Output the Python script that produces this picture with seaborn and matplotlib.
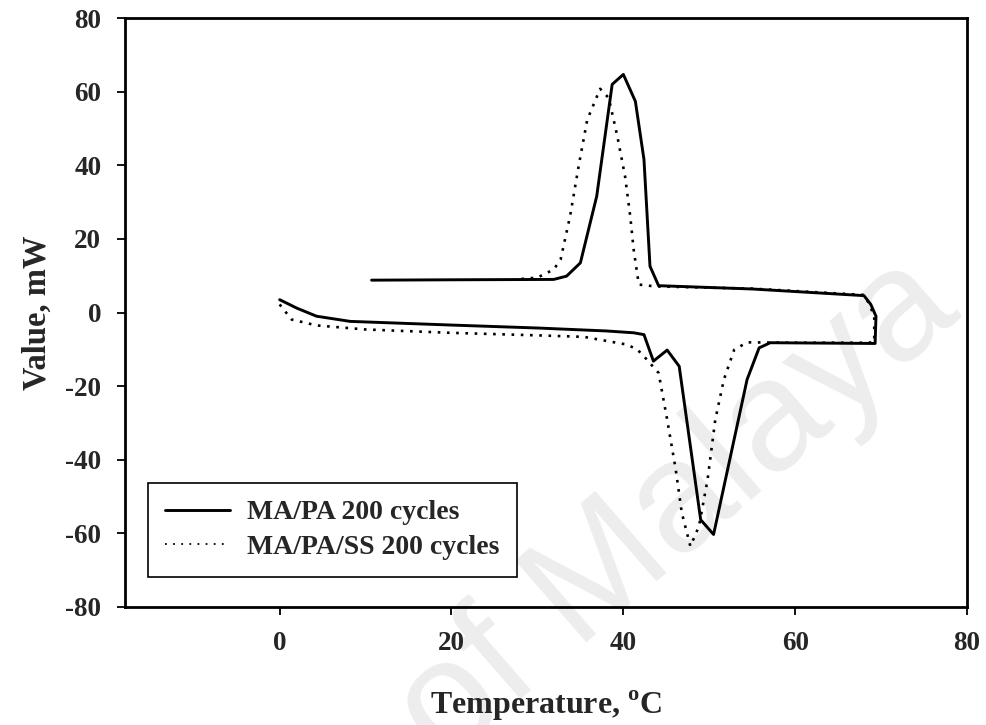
import matplotlib
matplotlib.use("Agg")
import matplotlib.pyplot as plt
import seaborn as sns
import pandas as pd

# DSC traces after 200 thermal cycles: heating branch (left to right),
# then cooling branch (right to left), drawn as one continuous path.
ma_pa_temp = [0, 2, 4.3, 8.2, 20, 30, 38, 41.2, 42.4, 43.5, 45.1, 46.5, 49.0,
              50.5, 54.4, 55.8, 57.1, 69.3, 69.4, 68.8, 68.0, 55, 44.1, 43.1,
              42.4, 41.4, 40.0, 38.7, 36.9, 35.0, 33.4, 31.9, 20, 10.7]
ma_pa_flow = [3.5, 1.2, -1.0, -2.4, -3.4, -4.2, -5.0, -5.5, -6.0, -13.2, -10.2,
              -14.6, -56.3, -60.3, -18.2, -9.6, -8.2, -8.4, -1.0, 2.2, 4.6, 6.4,
              7.3, 12.6, 41.6, 57.4, 64.7, 62.0, 31.6, 13.5, 9.9, 9.0, 8.9, 8.8]

ma_pa_ss_temp = [0, 1.4, 4.3, 10, 19.8, 30, 35.4, 40.4, 41.6, 42.4, 44.1, 45.1,
                 46.1, 46.8, 47.8, 48.8, 49.8, 50.7, 51.7, 52.9, 54.4, 60, 68.5,
                 69.2, 69.2, 68.6, 68.0, 55, 43.7, 41.8, 41.2, 40.8, 40.2, 39.3,
                 38.3, 37.3, 35.8, 34.8, 33.8, 32.7, 31.9, 30, 27.5]
ma_pa_ss_flow = [2.2, -1.9, -3.5, -4.6, -5.5, -6.2, -6.6, -8.7, -10.0, -11.9,
                 -16.4, -29.1, -42.7, -54.4, -63.5, -58.1, -45.4, -29.1, -18.2,
                 -10.1, -8.1, -8.2, -8.2, -8.0, -1.0, 2.4, 4.8, 6.5, 7.1, 7.6,
                 17.1, 26.2, 37.0, 47.9, 58.3, 60.8, 52.4, 39.8, 26.2, 14.4,
                 11.7, 9.5, 9.0]

series_names = ["MA/PA 200 cycles", "MA/PA/SS 200 cycles"]
x_ticks = [0, 20, 40, 60, 80]
y_ticks = [-80, -60, -40, -20, 0, 20, 40, 60, 80]

sns.set_style("ticks")
plt.rcParams["font.family"] = ["Liberation Serif", "DejaVu Serif"]
plt.rcParams["font.weight"] = "bold"
plt.rcParams["axes.unicode_minus"] = False
plt.rcParams["mathtext.fontset"] = "custom"
plt.rcParams["mathtext.rm"] = "Liberation Serif:bold"
plt.rcParams["mathtext.bf"] = "Liberation Serif:bold"

df_a = pd.DataFrame({"T": ma_pa_temp, "Q": ma_pa_flow})
df_b = pd.DataFrame({"T": ma_pa_ss_temp, "Q": ma_pa_ss_flow})

fig = plt.figure(figsize=(9.87, 7.25), dpi=100)
fig.patch.set_facecolor("white")
ax = fig.add_axes([0.1266, 0.1628, 0.8532, 0.8122])
ax.patch.set_alpha(0)

# faint background watermark
fig.text(0.975, 0.565, "of Malaya", rotation=41, rotation_mode="anchor",
         ha="right", va="baseline", fontsize=114, family="Liberation Sans",
         weight="normal", color="#ededed", zorder=-1)

sns.lineplot(data=df_a, x="T", y="Q", sort=False, estimator=None, ax=ax,
             color="black", linewidth=2.1, label=series_names[0])
sns.lineplot(data=df_b, x="T", y="Q", sort=False, estimator=None, ax=ax,
             color="black", linewidth=1.9, linestyle=(0, (1, 2.5)),
             label=series_names[1])

ax.set_xlim(-18, 80)
ax.set_ylim(-80, 80)
ax.set_xticks(x_ticks)
ax.set_yticks(y_ticks)
ax.tick_params(axis="both", direction="out", length=6, width=1.3,
               labelsize=19.5, pad=11, color="black")
for lab in ax.get_xticklabels() + ax.get_yticklabels():
    lab.set_fontweight("bold")
for sp in ax.spines.values():
    sp.set_visible(True)
    sp.set_linewidth(2.0)
    sp.set_color("black")

ax.set_xlabel(r"Temperature, $^{\mathrm{o}}$C", fontsize=23, fontweight="bold",
              labelpad=24)
ax.set_ylabel("Value, mW", fontsize=23.5, fontweight="bold", labelpad=9)

leg = ax.legend(loc="lower left", bbox_to_anchor=(0.0273, 0.051),
                borderaxespad=0, frameon=True, fancybox=False,
                edgecolor="black", framealpha=1,
                prop={"family": "Liberation Serif", "weight": "bold", "size": 20},
                handlelength=2.35, handletextpad=0.6, borderpad=0.62,
                labelspacing=0.32)
leg.get_frame().set_linewidth(1.2)
leg.legend_handles[1].set_linestyle((0, (1, 3.5)))
leg.legend_handles[1].set_linewidth(1.3)

fig.savefig("out.png", dpi=100)
